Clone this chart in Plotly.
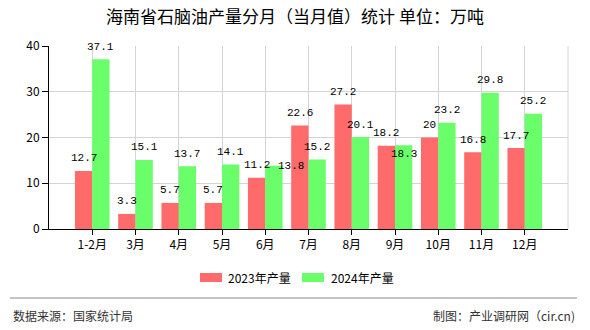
import plotly.graph_objects as go

categories = ["1-2月", "3月", "4月", "5月", "6月", "7月", "8月", "9月", "10月", "11月", "12月"]
series_names = ["2023年产量", "2024年产量"]
values_2023 = [12.7, 3.3, 5.7, 5.7, 11.2, 22.6, 27.2, 18.2, 20, 16.8, 17.7]
values_2024 = [37.1, 15.1, 13.7, 14.1, 13.8, 15.2, 20.1, 18.3, 23.2, 29.8, 25.2]
y_ticks = [0, 10, 20, 30, 40]

title_text = "海南省石脑油产量分月（当月值）统计 单位：万吨"
source_text = "数据来源：国家统计局"
credit_text = "制图：产业调研网（cir.cn)"

RED = "#FF6A6A"
GREEN = "#6AFF6A"
colors = [RED, GREEN]

W, H = 590, 330
L, R, T, B = 49, 22, 46, 101
PW, PH = W - L - R, H - T - B


def px_x(px):
    return (px - L) / PW


def px_y(py):
    return (H - B - py) / PH


fig = go.Figure()
for name, vals, col in zip(series_names, [values_2023, values_2024], colors):
    fig.add_trace(go.Bar(x=categories, y=vals, name=name, marker=dict(color=col, line=dict(width=0)),
                         showlegend=False))

# value labels
slot = PW / 12
half = slot * 0.8 / 4
label_quirks = {(1, 4): (17, -12.5), (1, 7): (0, -21)}
for si, vals in enumerate([values_2023, values_2024]):
    for ci, v in enumerate(vals):
        dx, dy = label_quirks.get((si, ci), (0, 0))
        fig.add_annotation(x=categories[ci], y=v, xref="x", yref="y",
                           text=(f"{v:g}"), showarrow=False,
                           xshift=(-half if si == 0 else half) + dx, yshift=12.5 + dy,
                           yanchor="middle", xanchor="center",
                           font=dict(family="Liberation Mono, DejaVu Sans Mono, monospace", size=11, color="#000"))

fig.update_layout(
    width=W, height=H,
    margin=dict(l=L, r=R, t=T, b=B),
    paper_bgcolor="white", plot_bgcolor="white",
    barmode="group", bargap=0.2, bargroupgap=0,
    font=dict(family="Noto Sans CJK SC, sans-serif", size=12, color="#000"),
    title=dict(text=title_text, x=0.5, xref="container", xanchor="center", y=1 - 17 / H, yanchor="middle",
               font=dict(family="Noto Sans CJK SC, sans-serif", size=17, color="#000")),
)

fig.update_xaxes(type="category", range=[-1, len(categories)], showgrid=True, gridcolor="#d4d4d4", gridwidth=1,
                 showline=True, linecolor="#000", linewidth=1, ticks="outside", ticklen=5, tickcolor="#000",
                 tickfont=dict(size=12, color="#000"), zeroline=False, fixedrange=True)
fig.update_yaxes(range=[0, 40], tickvals=y_ticks, showgrid=True, gridcolor="#d4d4d4", gridwidth=1,
                 showline=True, linecolor="#000", linewidth=1, ticks="outside", ticklen=6, tickcolor="#000",
                 tickfont=dict(size=12, color="#000"), zeroline=False, fixedrange=True)

# right border
fig.add_shape(type="line", xref="paper", yref="paper", x0=1, x1=1, y0=0, y1=1,
              line=dict(color="#d4d4d4", width=1))

# custom legend
legend_items = [(200, 222, 226), (302, 324, 329)]
for (sx0, sx1, tx), name, col in zip(legend_items, series_names, colors):
    fig.add_shape(type="rect", xref="paper", yref="paper", x0=px_x(sx0), x1=px_x(sx1),
                  y0=px_y(282), y1=px_y(273), fillcolor=col, line=dict(width=0))
    fig.add_annotation(x=px_x(tx), y=px_y(277.5), xref="paper", yref="paper", text=name, showarrow=False,
                       xanchor="left", yanchor="middle", font=dict(size=12, color="#000"))

# separator line
fig.add_shape(type="line", xref="paper", yref="paper", x0=px_x(10), x1=px_x(577), y0=px_y(298), y1=px_y(298),
              line=dict(color="#888888", width=1))

fig.add_annotation(x=px_x(11), y=px_y(315), xref="paper", yref="paper", text=source_text, showarrow=False,
                   xanchor="left", yanchor="middle", font=dict(size=12, color="#333"))
fig.add_annotation(x=px_x(577), y=px_y(315), xref="paper", yref="paper", text=credit_text, showarrow=False,
                   xanchor="right", yanchor="middle", font=dict(size=12, color="#333"))

fig.write_html("out.html", config={"displayModeBar": False})
